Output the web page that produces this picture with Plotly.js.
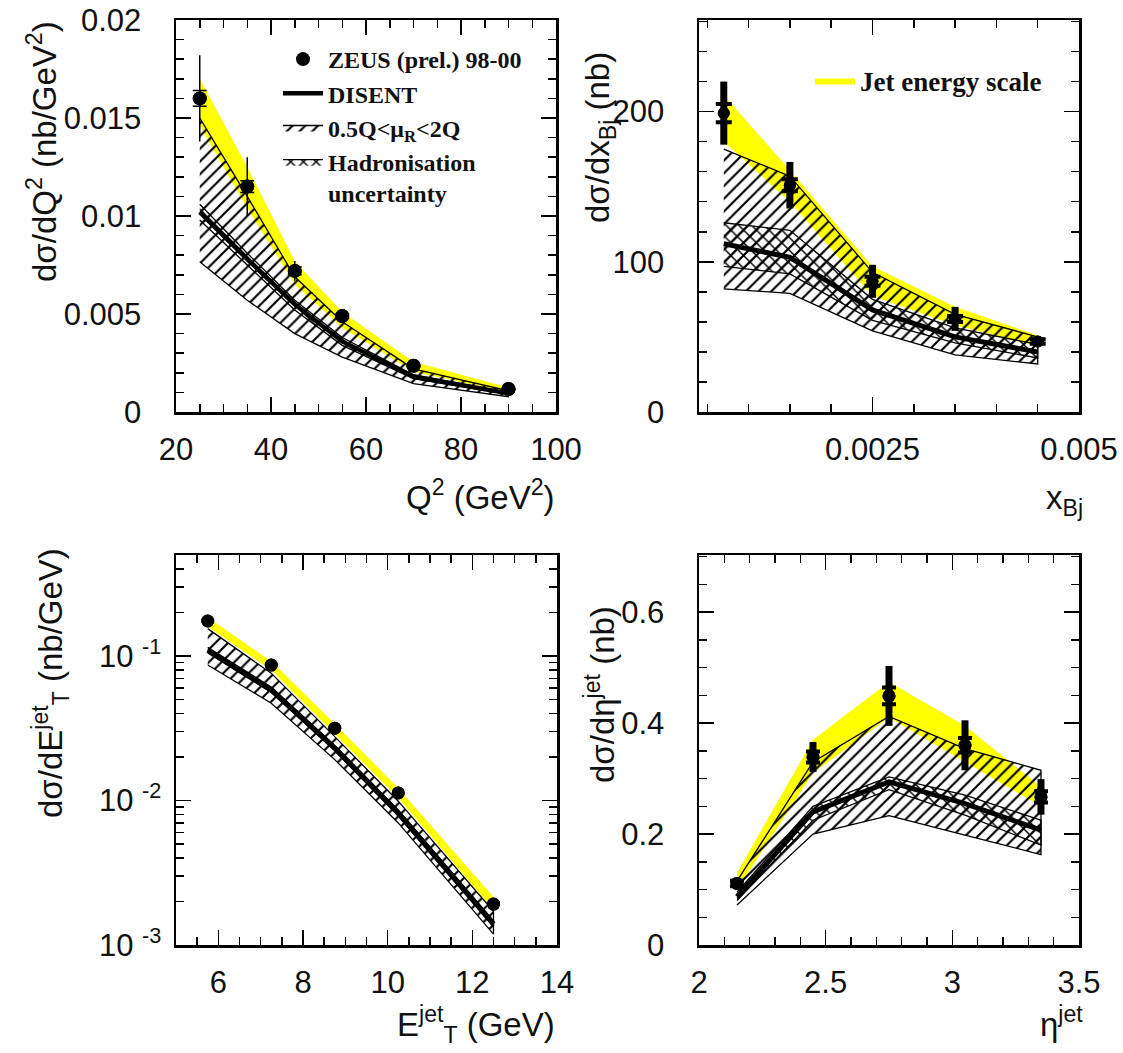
<!DOCTYPE html>
<html><head><meta charset="utf-8">
<script src="https://cdn.plot.ly/plotly-3.0.1.min.js"></script>
<style>html,body{margin:0;padding:0;background:#fff}</style>
</head><body><div id="chart" style="width:1123px;height:1053px"></div>
<script>
// ---------- Panel 1: dσ/dQ² ----------
const q2X      = [25, 35, 45, 55, 70, 90];
const q2Data   = [0.0160, 0.0115, 0.0072, 0.0049, 0.00236, 0.00117];
const q2Tot    = [0.0022, 0.0015, 0.0005, 0.0003, 0.0002, 0.0001];
const q2Stat   = [0.0004, 0.0003, 0.0002, 0.0001, 0.00005, 0.00003];
const q2JesUp  = [0.0170, 0.0125, 0.0077, 0.0051, 0.00256, 0.00125];
const q2JesLo  = [0.0146, 0.0104, 0.0065, 0.0043, 0.00205, 0.00100];
const q2MuUp   = [0.0150, 0.0110, 0.0069, 0.0046, 0.0022, 0.00108];
const q2MuLo   = [0.00767, 0.0057, 0.0040, 0.0028, 0.00145, 0.00078];
const q2Nlo    = [0.0102, 0.0078, 0.0055, 0.0036, 0.0018, 0.00095];
const q2HadUp  = [0.0106, 0.0081, 0.0057, 0.0038, 0.0019, 0.00099];
const q2HadLo  = [0.0098, 0.0075, 0.0052, 0.0034, 0.0017, 0.00091];

// ---------- Panel 2: dσ/dx_Bj ----------
const xbX      = [0.0007, 0.0015, 0.0025, 0.0035, 0.0045];
const xbData   = [199, 151, 87, 62, 47];
const xbTot    = [21, 15.5, 11, 8, 3];
const xbStat   = [6, 4, 3, 2, 1.5];
const xbJesUp  = [211, 161, 97, 70, 51];
const xbJesLo  = [180, 140, 77, 58, 44];
const xbMuUp   = [175, 157, 93, 65, 50];
const xbMuLo   = [82, 79, 54, 38, 32];
const xbNlo    = [112, 103, 68, 50, 40];
const xbHadUp  = [126, 121, 75, 56, 45];
const xbHadLo  = [97, 92, 61, 46, 36];

// ---------- Panel 3: dσ/dE_T^jet ----------
const etX      = [5.75, 7.25, 8.75, 10.25, 12.5];
const etData   = [0.175, 0.0867, 0.0317, 0.0113, 0.00192];
const etTot    = [0.006, 0.003, 0.0012, 0.0005, 0.00018];
const etStat   = [0.003, 0.0015, 0.0006, 0.0003, 0.0001];
const etJesUp  = [0.185, 0.092, 0.0340, 0.0122, 0.00215];
const etJesLo  = [0.160, 0.080, 0.0290, 0.0104, 0.00175];
const etMuUp   = [0.155, 0.076, 0.0277, 0.0099, 0.00171];
const etMuLo   = [0.0867, 0.0472, 0.0192, 0.0070, 0.00119];
const etNlo    = [0.110, 0.0584, 0.0231, 0.0082, 0.0014];
const etHadUp  = [0.115, 0.061, 0.0241, 0.0086, 0.00147];
const etHadLo  = [0.105, 0.056, 0.0221, 0.0078, 0.00133];

// ---------- Panel 4: dσ/dη^jet ----------
const etaX     = [2.15, 2.45, 2.75, 3.05, 3.35];
const etaData  = [0.111, 0.339, 0.449, 0.360, 0.267];
const etaTot   = [0.010, 0.027, 0.054, 0.045, 0.032];
const etaStat  = [0.005, 0.010, 0.015, 0.013, 0.010];
const etaJesUp = [0.130, 0.370, 0.474, 0.395, 0.285];
const etaJesLo = [0.100, 0.310, 0.410, 0.330, 0.250];
const etaMuUp  = [0.115, 0.330, 0.412, 0.354, 0.315];
const etaMuLo  = [0.072, 0.200, 0.233, 0.198, 0.163];
const etaNlo   = [0.087, 0.240, 0.294, 0.255, 0.207];
const etaHadUp = [0.095, 0.250, 0.303, 0.270, 0.225];
const etaHadLo = [0.080, 0.225, 0.280, 0.234, 0.180];

// legend / titles text
const legData = 'ZEUS (prel.) 98-00';
const legNlo  = 'DISENT';
const legMu   = '0.5Q&lt;μ<sub>R</sub>&lt;2Q';
const legHad  = 'Hadronisation<br>uncertainty';
const legJes  = 'Jet energy scale';

const W = 1123, H = 1053;
const px = v => v / W;
const py = v => 1 - v / H;

function closed(x, up, lo) {
  return { x: x.concat(x.slice().reverse()), y: up.concat(lo.slice().reverse()) };
}

const traces = [];
function panel(n, x, data, tot, stat, jesUp, jesLo, muUp, muLo, nlo, hadUp, hadLo, st) {
  const xa = n === 1 ? 'x' : 'x' + n, ya = n === 1 ? 'y' : 'y' + n;
  const first = n === 1;
  const jes = closed(x, jesUp, jesLo);
  traces.push({ x: jes.x, y: jes.y, xaxis: xa, yaxis: ya, type: 'scatter', mode: 'lines',
    fill: 'toself', fillcolor: '#ffff00', line: { width: 0, color: '#ffff00' },
    name: legJes, showlegend: n === 2, legend: 'legend2', hoverinfo: 'skip' });
  const mu = closed(x, muUp, muLo);
  traces.push({ x: mu.x, y: mu.y, xaxis: xa, yaxis: ya, type: 'scatter', mode: 'lines',
    fill: 'toself', fillcolor: 'rgba(0,0,0,0)',
    fillpattern: { shape: '/', fgcolor: '#000', bgcolor: 'rgba(0,0,0,0)', size: 9, solidity: 0.24 },
    line: { width: 1.3, color: '#000' }, name: legMu, showlegend: first, legendrank: 3 });
  const had = closed(x, hadUp, hadLo);
  traces.push({ x: had.x, y: had.y, xaxis: xa, yaxis: ya, type: 'scatter', mode: 'lines',
    fill: 'toself', fillcolor: 'rgba(0,0,0,0)',
    fillpattern: { shape: 'x', fgcolor: '#000', bgcolor: 'rgba(255,255,255,0)', size: 9, solidity: 0.3 },
    line: { width: 1.3, color: '#000' }, name: legHad, showlegend: first, legendrank: 4 });
  traces.push({ x: x, y: nlo, xaxis: xa, yaxis: ya, type: 'scatter', mode: 'lines',
    line: { width: st.lw, color: '#000' }, name: legNlo, showlegend: first, legendrank: 2 });
  traces.push({ x: x, y: data, xaxis: xa, yaxis: ya, type: 'scatter', mode: 'markers',
    marker: { size: st.ms, color: '#000' },
    error_y: { type: 'data', array: tot, color: '#000', thickness: st.et, width: 0 },
    name: legData, showlegend: false });
  traces.push({ x: x, y: data, xaxis: xa, yaxis: ya, type: 'scatter', mode: 'markers',
    marker: { size: st.ms, color: '#000' },
    error_y: { type: 'data', array: stat, color: '#000', thickness: st.ct, width: st.cw },
    name: legData, showlegend: first, legendrank: 1 });
}

panel(1, q2X, q2Data, q2Tot, q2Stat, q2JesUp, q2JesLo, q2MuUp, q2MuLo, q2Nlo, q2HadUp, q2HadLo,
  { lw: 4.5, ms: 14, et: 1.5, ct: 1.5, cw: 7 });
panel(2, xbX, xbData, xbTot, xbStat, xbJesUp, xbJesLo, xbMuUp, xbMuLo, xbNlo, xbHadUp, xbHadLo,
  { lw: 5, ms: 12, et: 7, ct: 4, cw: 8 });
panel(3, etX, etData, etTot, etStat, etJesUp, etJesLo, etMuUp, etMuLo, etNlo, etHadUp, etHadLo,
  { lw: 5, ms: 13, et: 3, ct: 2, cw: 5 });
panel(4, etaX, etaData, etaTot, etaStat, etaJesUp, etaJesLo, etaMuUp, etaMuLo, etaNlo, etaHadUp, etaHadLo,
  { lw: 5, ms: 13, et: 7, ct: 4, cw: 7 });

const tickFont = { family: 'Liberation Sans, Arial, sans-serif', size: 31, color: '#111' };
function axis(dom, range, extra, minorD, anchor, isY) {
  const a = {
    domain: dom, range: range, anchor: anchor,
    showline: true, linewidth: 2.5, linecolor: '#000', mirror: 'allticks',
    ticks: 'inside', ticklen: 15, tickwidth: 1.5, tickcolor: '#000',
    showgrid: false, zeroline: false, tickfont: tickFont,
    ticklabelstandoff: isY ? 26 : 8,
    minor: { ticks: 'inside', ticklen: 8, tickwidth: 1.5, tickcolor: '#000', showgrid: false }
  };
  if (minorD !== null) a.minor.dtick = minorD;
  return Object.assign(a, extra);
}

// log-axis decades and minor positions for panel 3
const decades = [0.001, 0.01, 0.1];
const decadeText = ['10&nbsp;<sup>-3</sup>', '10&nbsp;<sup>-2</sup>', '10&nbsp;<sup>-1</sup>'];
const logMinor = [];
decades.forEach(d => { for (let k = 2; k <= 9; k++) logMinor.push(d * k); });

const titleFont = { family: 'Liberation Sans, Arial, sans-serif', size: 33, color: '#111' };
function ann(text, x, y, xanchor, rot) {
  return { text: text, x: px(x), y: py(y), xref: 'paper', yref: 'paper', showarrow: false,
    xanchor: xanchor, yanchor: 'middle', textangle: rot || 0, font: titleFont };
}

const legFont = { family: 'Liberation Serif, Times New Roman, serif', size: 24, color: '#111', weight: 'bold' };
const layout = {
  width: W, height: H, autosize: false,
  margin: { l: 0, r: 0, t: 0, b: 0 },
  paper_bgcolor: '#fff', plot_bgcolor: 'rgba(0,0,0,0)',
  xaxis:  axis([px(176), px(556)], [20, 100.0001], { dtick: 20, tick0: 0 }, 5, 'y', false),
  yaxis:  axis([py(412), py(20)], [0, 0.0200001], { dtick: 0.005, tick0: 0 }, 0.001, 'x', true),
  xaxis2: axis([px(699), px(1079)], [0.0004, 0.0050001], { dtick: 0.0025, tick0: 0 }, 0.0005, 'y2', false),
  yaxis2: axis([py(412), py(20)], [0, 261], { dtick: 100, tick0: 0 }, 20, 'x2', true),
  xaxis3: axis([px(176), px(557)], [5, 14.0001], { dtick: 2, tick0: 0 }, 0.5, 'y3', false),
  yaxis3: axis([py(945), py(555)], [-3, -0.30], { type: 'log', tickmode: 'array', tickvals: decades, ticktext: decadeText, ticklabelstandoff: 6 }, null, 'x3', true),
  xaxis4: axis([px(699), px(1079)], [2, 3.5001], { dtick: 0.5, tick0: 0 }, 0.1, 'y4', false),
  yaxis4: axis([py(945), py(555)], [0, 0.703], { dtick: 0.2, tick0: 0 }, 0.05, 'x4', true),
  legend: { x: px(278), y: py(37), xanchor: 'left', yanchor: 'top', bgcolor: 'rgba(0,0,0,0)',
    font: legFont, tracegroupgap: 0, itemwidth: 40, valign: 'top', traceorder: 'normal' },
  legend2: { x: px(810), y: py(81), xanchor: 'left', yanchor: 'middle', bgcolor: 'rgba(0,0,0,0)',
    font: Object.assign({}, legFont, { size: 27 }), itemwidth: 40 },
  annotations: [
    ann('dσ/dQ<sup>2</sup> (nb/GeV<sup>2</sup>)', 42, 152, 'center', -90),
    ann('Q<sup>2</sup> (GeV<sup>2</sup>)', 557, 495, 'right'),
    ann('dσ/dx<sub>Bj</sub> (nb)', 600, 138, 'center', -90),
    ann('x<sub>Bj</sub>', 1085, 500, 'right'),
    ann('dσ/dE<sup>jet</sup><sub>T</sub> (nb/GeV)', 50, 683, 'center', -90),
    ann('E<sup>jet</sup><sub>T</sub> (GeV)', 557, 1024, 'right'),
    ann('dσ/dη<sup>jet</sup> (nb)', 600, 695, 'center', -90),
    ann('η<sup>jet</sup>', 1085, 1022, 'right')
  ]
};
layout.yaxis3.minor = { ticks: 'inside', ticklen: 8, tickwidth: 1.5, tickcolor: '#000', showgrid: false,
  tickmode: 'array', tickvals: logMinor };

Plotly.newPlot('chart', traces, layout, { staticPlot: true, displayModeBar: false });
</script>
</body></html>
